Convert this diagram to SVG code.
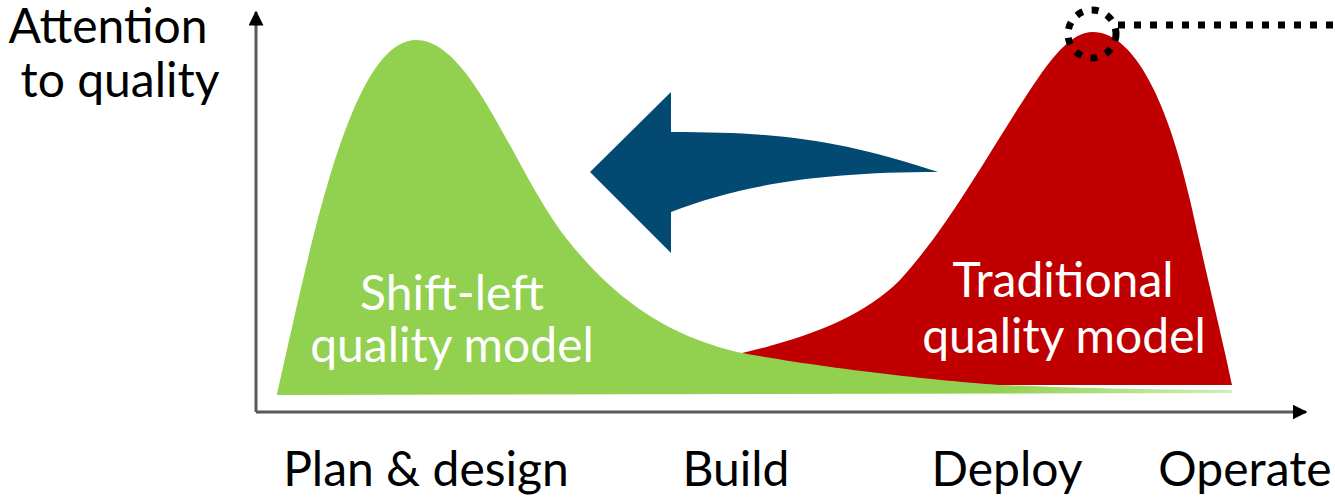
<svg xmlns="http://www.w3.org/2000/svg" width="1335" height="498" viewBox="0 0 1335 498">
<defs>
<style>
text{font-family:Lato,"Liberation Sans",sans-serif;font-size:48px;text-anchor:middle}
.lbl{fill:#000}
.in{fill:#fff}
.axis{stroke:#595959;stroke-width:3;fill:none}
.dash{stroke:#000;stroke-width:7;fill:none;stroke-dasharray:7 9}
</style>
<linearGradient id="gfade" x1="0" y1="0" x2="1" y2="0">
<stop offset="0.75" stop-color="#92d050"/>
<stop offset="1" stop-color="#92d050" stop-opacity="0.4"/>
</linearGradient>
<marker id="ah" viewBox="0 0 10 10" refX="9" refY="5" markerWidth="5" markerHeight="5" orient="auto" markerUnits="strokeWidth">
<path d="M0,0 L10,5 L0,10 Z" fill="#000"/>
</marker>
</defs>
<rect width="1335" height="498" fill="#fff"/>
<g id="red-curve">
<path d="M730,356 C800,340 860,320 900,280 C950,225 990,150 1030,90 C1050,60 1070,32 1093,32 C1130,32 1165,90 1190,200 C1210,290 1225,350 1232,385 L730,385 Z" fill="#c00000"/>
</g>
<g id="green-curve">
<path d="M277,394 C310,250 350,40 416,40 C470,40 510,160 560,230 C620,310 680,338 737,352 C820,368 950,382 1000,385 C1100,389 1180,390 1232,390 L1232,393 L277,395 Z" fill="url(#gfade)"/>
</g>
<g id="axes">
<line class="axis" x1="256" y1="412" x2="256" y2="12" marker-end="url(#ah)"/>
<line class="axis" x1="256" y1="412" x2="1306" y2="412" marker-end="url(#ah)"/>
</g>
<g id="shift-arrow">
<path d="M590,172 L671,92 L671,132 C780,132 840,140 938,172 C820,172 740,185 671,212 L671,253 Z" fill="#034a72"/>
</g>
<g id="highlight">
<circle class="dash" cx="1092" cy="34" r="24" stroke-dasharray="7 8"/>
<line class="dash" x1="1118" y1="25" x2="1335" y2="25"/>
</g>
<g id="labels">
<text class="lbl" x="108" y="43">Attention</text>
<text class="lbl" x="120" y="97">to quality</text>
<text class="in" x="452" y="310">Shift-left</text>
<text class="in" x="452" y="362">quality model</text>
<text class="in" x="1063" y="297">Traditional</text>
<text class="in" x="1064" y="353">quality model</text>
<text class="lbl" x="426" y="486">Plan &amp; design</text>
<text class="lbl" x="736" y="486">Build</text>
<text class="lbl" x="1007" y="486">Deploy</text>
<text class="lbl" x="1245" y="486">Operate</text>
</g>
</svg>
